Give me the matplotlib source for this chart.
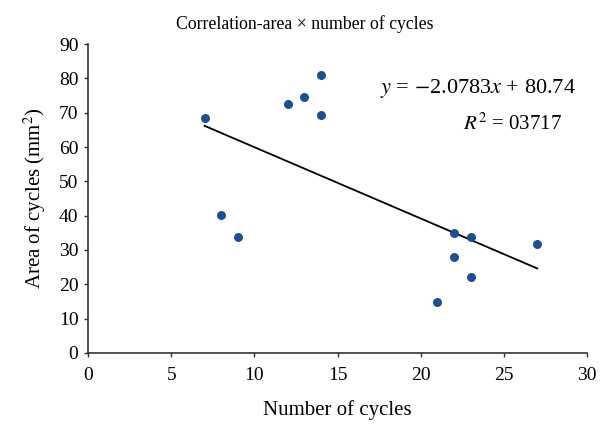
import numpy as np
import matplotlib
matplotlib.use("Agg")
import matplotlib.pyplot as plt

plt.rcParams['font.family'] = ['Liberation Serif', 'DejaVu Serif']
plt.rcParams['mathtext.fontset'] = 'stix'

# data
cycles = [7, 8, 9, 12, 13, 14, 14, 21, 22, 22, 23, 23, 27]
area = [68.6, 40.2, 33.9, 72.5, 74.5, 81.1, 69.4, 14.8, 34.9, 28.1, 33.9, 22.2, 31.7]
slope = -2.0783
intercept = 80.74
r2_text = '03717'

fig = plt.figure(figsize=(6.04, 4.33), dpi=100)
ax = fig.add_axes([0.146, 0.185, 0.826, 0.713])

ax.scatter(cycles, area, s=42, color='#1F4E8C', zorder=3, linewidths=0)
xs = np.array([min(cycles), max(cycles)])
ax.plot(xs, slope * xs + intercept, color='black', lw=1.3)

ax.set_xlim(0, 30)
ax.set_ylim(0, 90)
ax.set_xticks(range(0, 31, 5))
ax.set_yticks(range(0, 91, 10))
ax.tick_params(labelsize=14, length=3, color='#333333', width=1, pad=4)
ax.tick_params(axis='x', pad=7)

for s in ['top', 'right']:
    ax.spines[s].set_visible(False)
for s in ['left', 'bottom']:
    ax.spines[s].set_color('#333333')
    ax.spines[s].set_linewidth(1.2)

ax.text(29.3, 77.0, r'$y$ = $-$2.0783$x$ + 80.74', ha='right', va='center', fontsize=16)
ax.text(28.5, 66.8, r'$R^2$ = ' + r2_text, ha='right', va='center', fontsize=15)

fig.text(0.505, 0.945, 'Correlation-area × number of cycles', ha='center', va='center', fontsize=12.8)
ax.set_xlabel('Number of cycles', fontsize=15, labelpad=12)
ax.set_ylabel('Area of cycles (mm$^2$)', fontsize=15, labelpad=8)

fig.savefig('out.png', dpi=100)
